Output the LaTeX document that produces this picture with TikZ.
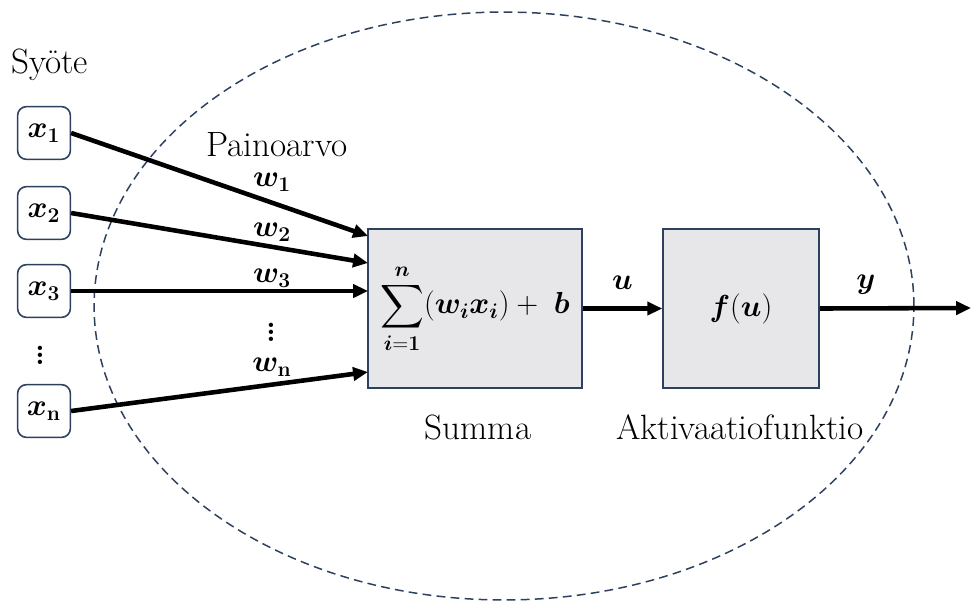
\documentclass[tikz,border=0pt]{standalone}
\usepackage{amsmath,bm}
\usepackage{tikz}
\usetikzlibrary{arrows.meta,positioning,calc}
\definecolor{edgeslate}{RGB}{45, 65, 95}
\definecolor{boxgray}{RGB}{231, 230, 232}

\tikzset{
    inbox/.style={draw=edgeslate, line width=0.9pt, rounded corners=5pt, minimum width=30pt, minimum height=30pt, inner sep=0pt, fill=white},
    unitbox/.style={draw=edgeslate, fill=boxgray, line width=0.9pt, inner sep=0pt},
    wire/.style={line width=2.6pt, -{Triangle[length=8.5pt, width=7.5pt]}},
    lbl/.style={font=\fontsize{20}{24}\selectfont}
}

\begin{document}
\begin{tikzpicture}[x=0.02cm, y=-0.02cm, every node/.style={font=\fontsize{17}{20}\selectfont}]
    \useasboundingbox (0,0) rectangle (971,603);

    % Neuron boundary
    \draw[edgeslate, line width=0.85pt, dash pattern=on 5pt off 3pt] (504,306) ellipse [x radius=8.2cm, y radius=5.88cm];

    % Inputs
    \node[lbl, anchor=west] (syote) at (5,65) {Syöte};
    \node[inbox] (x1) at (44,133) {$\bm{x}_{\mathbf{1}}$};
    \node[inbox] (x2) at (44,213) {$\bm{x}_{\mathbf{2}}$};
    \node[inbox] (x3) at (44,291) {$\bm{x}_{\mathbf{3}}$};
    \node[inner sep=0pt] (xdots) at (40,350) {$\bm{\vdots}$};
    \node[inbox] (xn) at (44,411) {$\bm{x}_{\mathbf{n}}$};

    % Summing and activation units
    \node[unitbox, minimum width=214*0.02cm, minimum height=159*0.02cm] (summa) at (475,308.5) {$\displaystyle\sum_{\bm{i}=\mathbf{1}}^{\bm{n}}(\bm{w}_{\bm{i}}\bm{x}_{\bm{i}}) +\ \bm{b}$};
    \node[unitbox, minimum width=156*0.02cm, minimum height=159*0.02cm] (act) at (741,308.5) {$\bm{f}(\bm{u})$};
    \node[lbl] (summalbl) at (478,427) {Summa};
    \node[lbl] (actlbl) at (740,427) {Aktivaatiofunktio};

    % Arrow ends
    \coordinate (in1) at (368,236);
    \coordinate (in2) at (368,263);
    \coordinate (in3) at (368,291);
    \coordinate (inn) at (368,372);
    \coordinate (out) at (971,308);

    % Weights
    \node[lbl] (paino) at (277,145) {Painoarvo};
    \node (w1) at (272,182) {$\bm{w}_{\mathbf{1}}$};
    \node (w2) at (272,232) {$\bm{w}_{\mathbf{2}}$};
    \node (w3) at (272,278) {$\bm{w}_{\mathbf{3}}$};
    \node[inner sep=0pt] (wdots) at (271,327) {$\bm{\vdots}$};
    \node (wn) at (272,367) {$\bm{w}_{\mathbf{n}}$};

    \draw[wire] (x1.east) -- (in1);
    \draw[wire] (x2.east) -- (in2);
    \draw[wire] (x3.east) -- (in3);
    \draw[wire] (xn.east) -- (inn);

    % Output path
    \draw[wire] (summa.east) -- (act.west) node[midway, above=6pt] (ulbl) {$\bm{u}$};
    \draw[wire] (act.east) -- (out);
    \node (ylbl) at (866,285) {$\bm{y}$};
\end{tikzpicture}
\end{document}
